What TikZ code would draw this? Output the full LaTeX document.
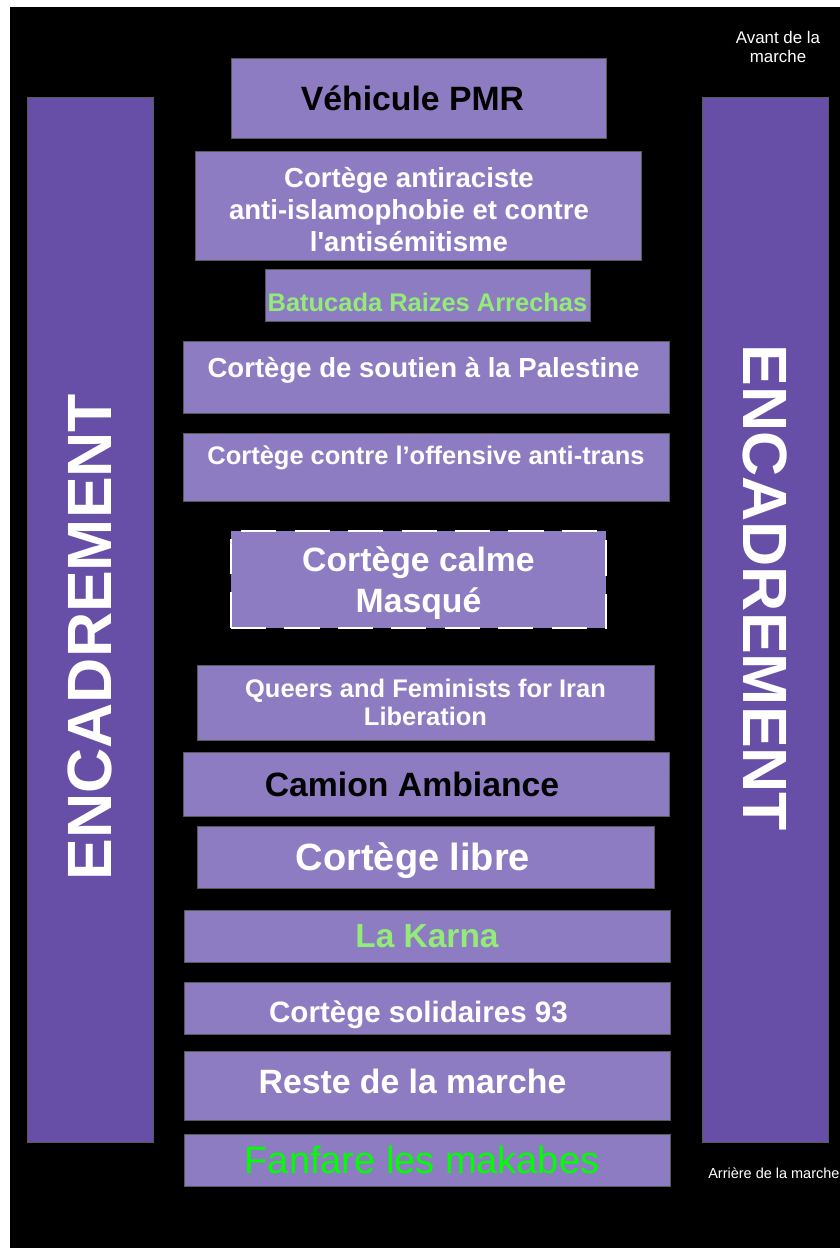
\documentclass[tikz,border=0pt]{standalone}
\usepackage{fontspec}
\setmainfont{Liberation Sans}
\definecolor{boxlilac}{HTML}{8E7CC3}
\definecolor{barpurple}{HTML}{674EA7}
\definecolor{boxedge}{HTML}{595959}
\definecolor{softgreen}{HTML}{93EB78}
\definecolor{loudgreen}{HTML}{00FF00}
\newlength\pxu
\setlength\pxu{0.025cm}
\newcommand\padr[1]{\hbox to #1\pxu{}}
\newcommand\squote{\XeTeXglyph\XeTeXcharglyph"27\relax}
\tikzset{%
  boxsize/.style 2 args={minimum width=#1\pxu,minimum height=#2\pxu},
  fsize/.style 2 args={font=\bfseries\fontsize{#1}{#2}\selectfont},
  gbox/.style={draw=boxedge,line width=0.7pt,fill=boxlilac,inner sep=0pt,align=center,text=white},
  maskbox/.style={gbox,draw=white,line width=2.1pt,dash pattern=on 25pt off 13pt},
  sidebar/.style={draw=boxedge,line width=0.7pt,fill=barpurple,inner sep=0pt,text=white,
    boxsize={1045}{126},fsize={44.5}{44.5}},
  sidenote/.style={text=white,inner sep=0pt,align=center,font=\fontsize{12}{13.5}\selectfont}
}

\begin{document}
\begin{tikzpicture}[x=\pxu,y=-\pxu]
    \useasboundingbox (0,0) rectangle (840,1248);
    \fill[white] (0,0) rectangle (840,1248);
    \fill[black] (10,7) rectangle (840,1248);
    \path
      (90,619.5) node[sidebar,rotate=90] (encl) {ENCADREMENT\hspace*{25pt}}
      (765,619.5) node[sidebar,rotate=-90] (encr) {ENCADREMENT\hspace*{45pt}};
    \path
      (418.5,98) node[gbox,boxsize={375}{80},fsize={24}{28},text=black] (pmr) {Véhicule PMR\padr{12}}
      (418,205.5) node[gbox,boxsize={446}{109},fsize={19.6}{22.8},text height=66pt,text depth=0pt] (antira) {Cortège antiraciste\padr{18}\\anti-islamophobie et contre\padr{18}\\l\squote antisémitisme\padr{18}}
      (427.5,295) node[gbox,boxsize={325}{52},fsize={18.1}{20},text=softgreen,text height=24pt,text depth=1pt] (batuc) {Batucada Raizes Arrechas}
      (426,377) node[gbox,boxsize={486}{72},fsize={19.6}{22},text height=15pt,text depth=14pt] (palest) {Cortège de soutien à la Palestine\padr{5}}
      (426,467) node[gbox,boxsize={486}{68},fsize={18.1}{20},text height=14pt,text depth=18pt] (antitr) {Cortège contre l’offensive anti-trans}
      (418.5,579.5) node[maskbox,boxsize={375}{97},fsize={24}{29.2},text depth=0pt] (calme) {Cortège calme\\Masqué}
      (425.5,702.5) node[gbox,boxsize={457}{75},fsize={18.1}{19.9}] (queers) {Queers and Feminists for Iran\\Liberation}
      (426,784) node[gbox,boxsize={486}{64},fsize={24}{28},text=black] (camion) {Camion Ambiance\padr{28}}
      (425.5,857) node[gbox,boxsize={457}{62},fsize={27}{30},text depth=0pt] (libre) {Cortège libre\padr{25}}
      (427,936) node[gbox,boxsize={486}{52},fsize={23.8}{28},text=softgreen] (karna) {La Karna}
      (427,1008) node[gbox,boxsize={486}{52},fsize={21}{24},text height=20pt,text depth=0pt] (solid) {Cortège solidaires 93\padr{17}}
      (427,1085.5) node[gbox,boxsize={486}{69},fsize={24}{28},text height=17pt,text depth=5pt] (reste) {Reste de la marche\padr{29}}
      (427,1160) node[gbox,boxsize={486}{52},font=\fontsize{27}{30}\selectfont,text=loudgreen] (fanf) {Fanfare les makabes\padr{10}};
    \path
      (778,46.5) node[sidenote] (avant) {Avant de la\\marche}
      (708,1173) node[sidenote,anchor=west,font=\fontsize{10.3}{12}\selectfont] (arriere) {Arrière de la marche};
  \end{tikzpicture}
\end{document}
